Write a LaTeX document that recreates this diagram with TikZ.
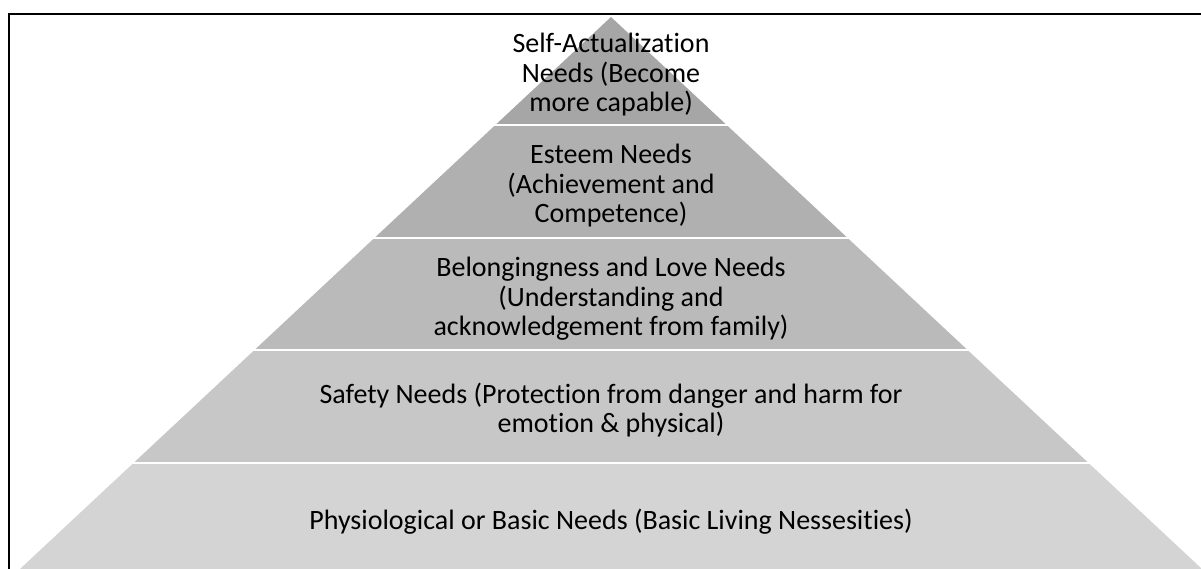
\documentclass[tikz,border=0pt]{standalone}
\usepackage{fontspec}
\setmainfont{Carlito}[Ligatures=NoCommon]

\begin{document}
\begin{tikzpicture}[x=1pt,y=-1pt]

    % Pyramid style
    \tikzset{
        layer text/.style={align=center, inner sep=0pt,
            font=\fontsize{28}{29.5}\selectfont},
        gap/.style={draw=white, line width=2.5pt}
    }

    \useasboundingbox (0,0) rectangle (1201,569);

    % Frame
    \draw[line width=2pt] (9,590) -- (9,14) -- (1220,14);

    % Layers (top/bottom/shade)
    \foreach \t/\b/\s in {17/125/35, 125/238/31, 238/350/27, 350/463/22, 463/580/17}{
        \fill[black!\s] ({611-(\t-17)*1.0707},\t) -- ({611+(\t-17)*1.0707},\t)
            -- ({611+(\b-17)*1.0707},\b) -- ({611-(\b-17)*1.0707},\b) -- cycle;
    }
    \foreach \y in {125,238,350,463}{
        \draw[gap] ({609-(\y-17)*1.0707},\y) -- ({613+(\y-17)*1.0707},\y);
    }

    % Labels
    \node[layer text] (self) at (611,75) {Self-Actualization\\Needs (Become\\more capable)};
    \node[layer text] (esteem) at (611,186) {Esteem Needs\\(Achievement and\\Competence)};
    \node[layer text] (belong) at (611,299) {Belongingness and Love Needs\\(Understanding and\\acknowledgement from family)};
    \node[layer text] (safety) at (611,410) {Safety Needs (Protection from danger and harm for\\emotion \& physical)};
    \node[layer text] (basic) at (611,522) {Physiological or Basic Needs (Basic Living Nessesities)};
\end{tikzpicture}
\end{document}
